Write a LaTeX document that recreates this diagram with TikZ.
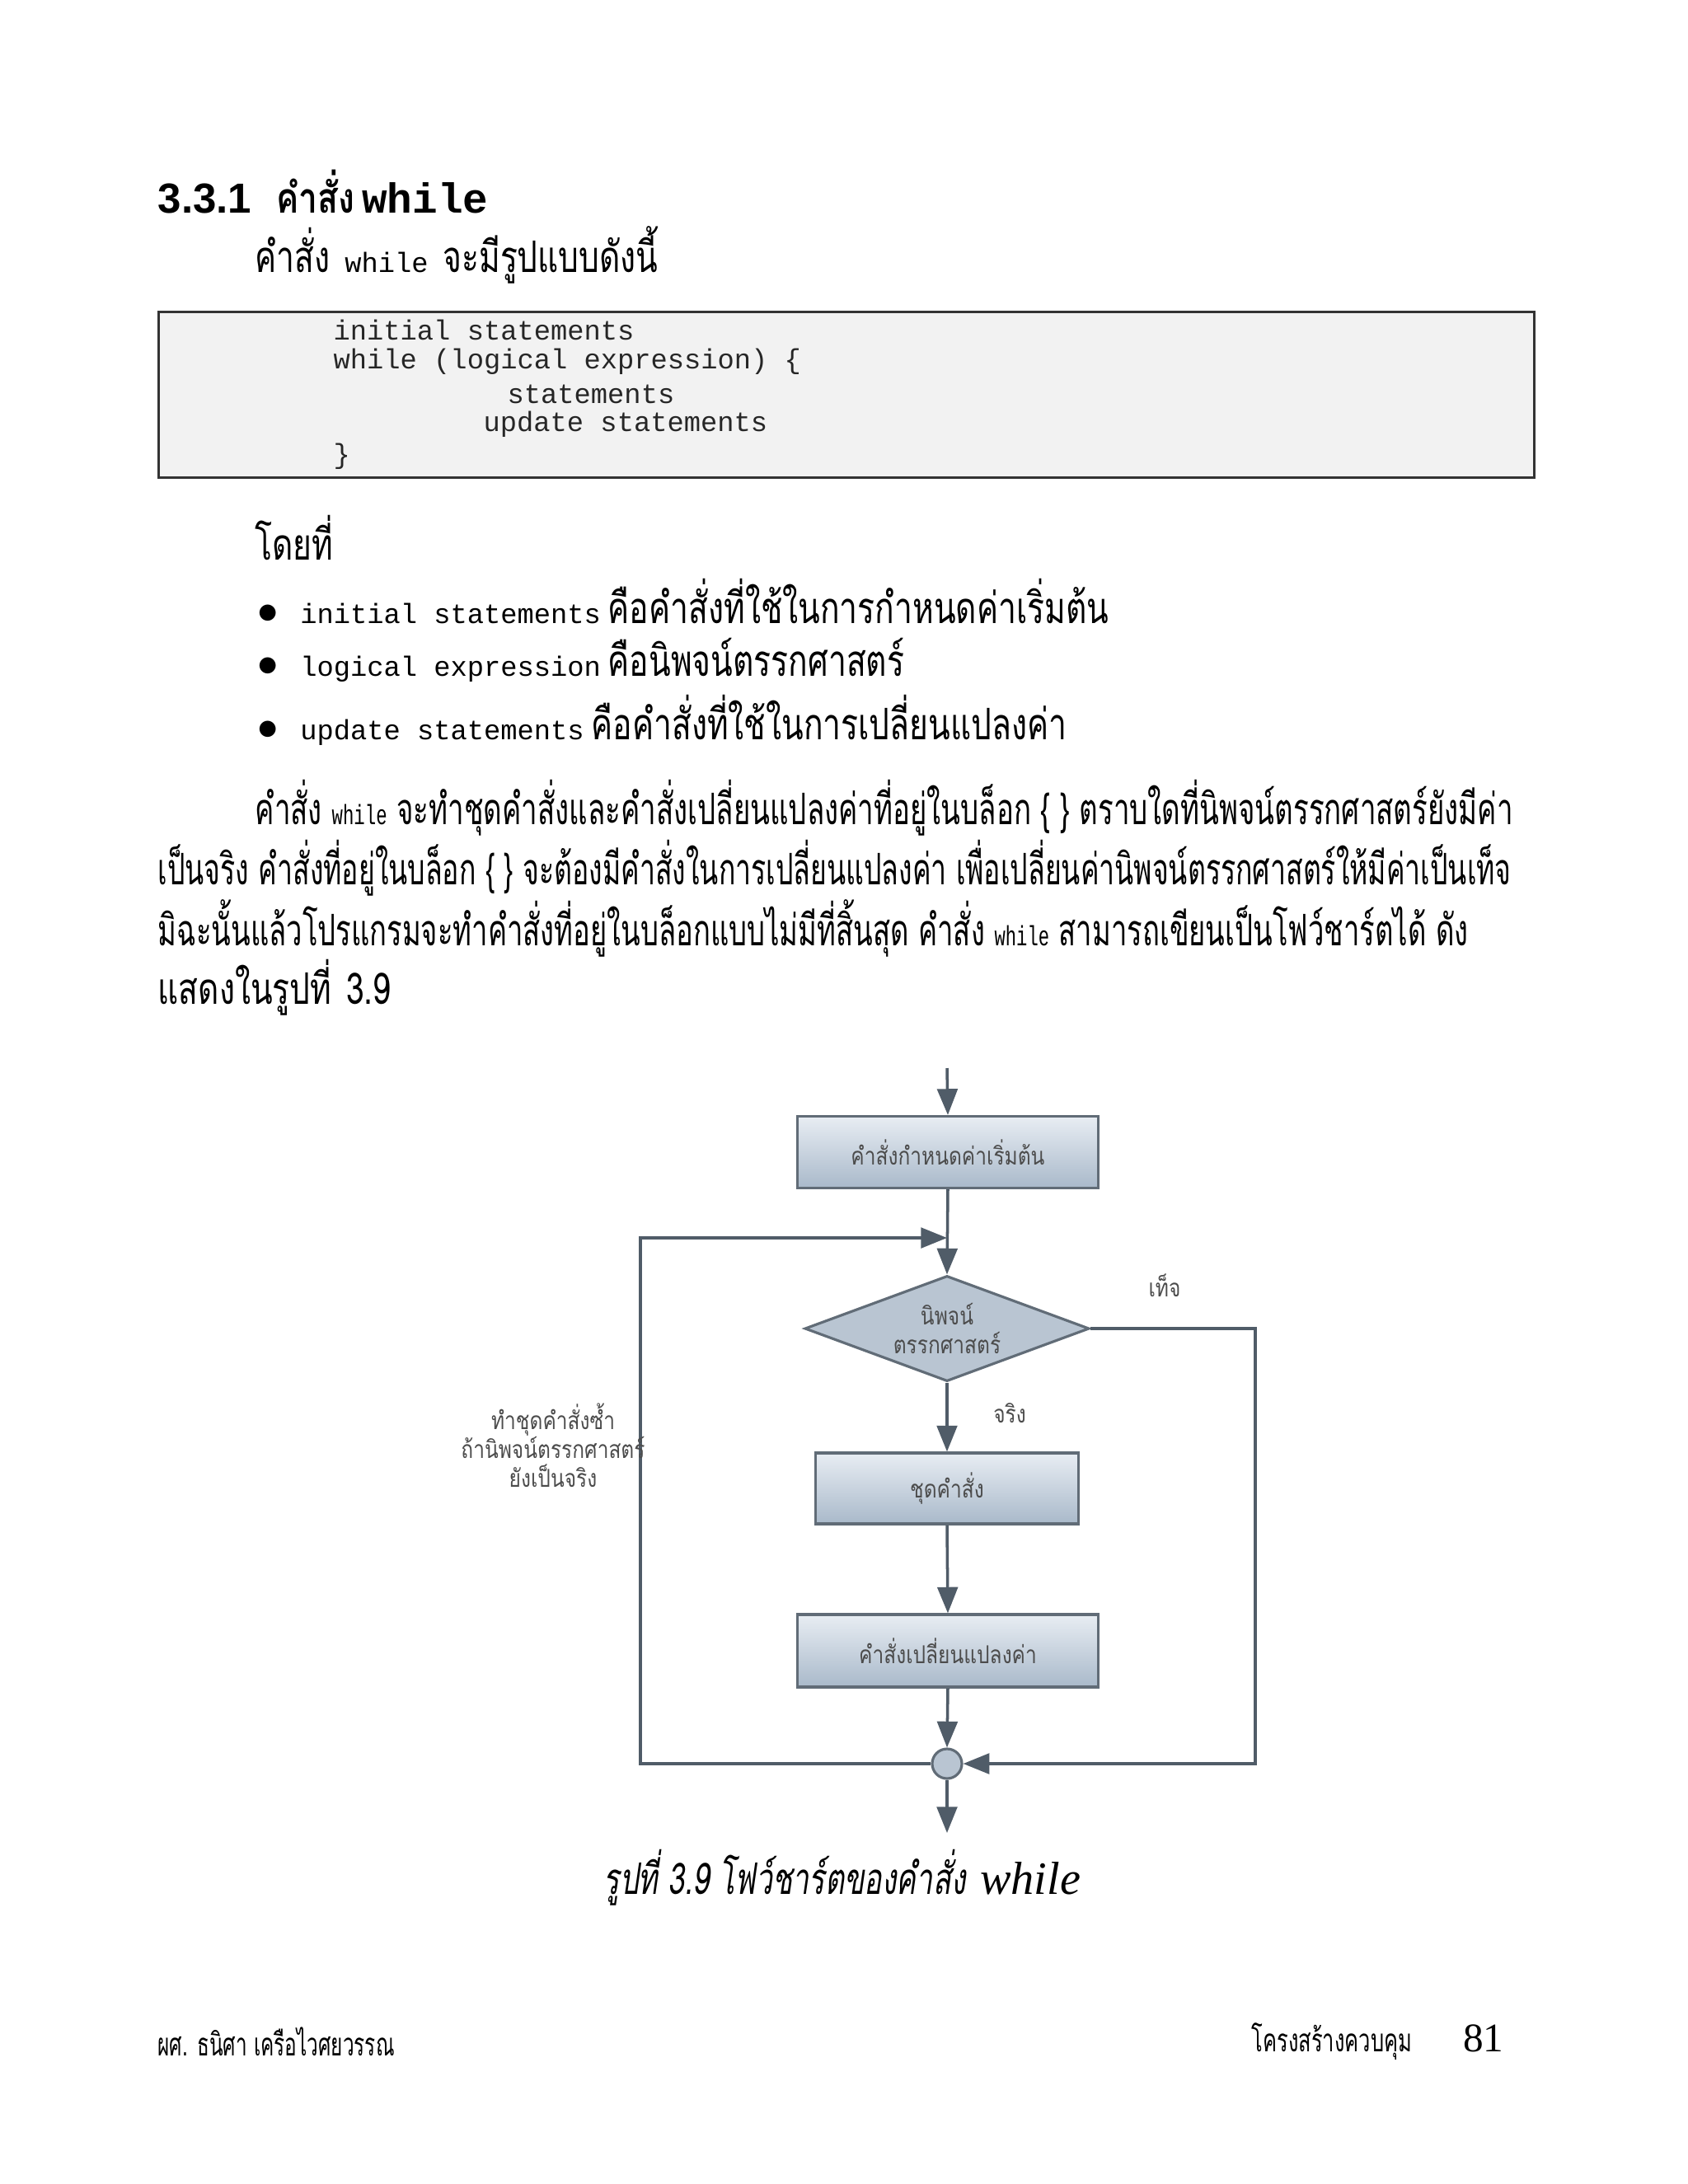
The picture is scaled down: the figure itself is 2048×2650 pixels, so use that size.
\documentclass[tikz,border=0pt]{standalone}
\usepackage{fontspec}
\usetikzlibrary{shapes.geometric,arrows.meta}
\setmainfont{Liberation Serif}
\newfontfamily\thaif[Script=Thai]{Loma}
\newfontfamily\cmono{Liberation Mono}
\newfontfamily\hsans{Liberation Sans}
\definecolor{fl}{HTML}{505C68}
\definecolor{btop}{HTML}{E8EDF3}
\definecolor{bbot}{HTML}{A9B9CA}
\definecolor{dfill}{HTML}{B9C5D2}
\newcommand{\nar}[2][0.74]{\scalebox{#1}[1]{#2}}
\newcommand{\cw}{\cmono\fontsize{9.6}{11}\selectfont}
\tikzset{
 body/.style={anchor=west,inner sep=0pt,font=\thaif\fontsize{15}{18}\selectfont},
 codeline/.style={anchor=west,inner sep=0pt,font=\cmono\fontsize{9.6}{11}\selectfont,text=black!85},
 procbox/.style={draw=fl!90,line width=0.9pt,top color=btop,bottom color=bbot,font=\thaif\fontsize{8.5}{10}\selectfont,text=black!70,minimum height=0.86cm},
 arr/.style={draw=fl,line width=1pt,-{Triangle[length=9pt,width=7pt]}},
 small/.style={font=\thaif\fontsize{8.5}{10}\selectfont,text=black!70,align=center,inner sep=0pt},
}
\begin{document}
\begin{tikzpicture}[x=0.01cm,y=-0.01cm]
\useasboundingbox (0,0) rectangle (2048,2650);
% heading
\node[anchor=west,inner sep=0pt] (h) at (191,233) {\hsans\bfseries\fontsize{14.5}{18}\selectfont 3.3.1\hspace{0.6em}{\thaif\nar[0.8]{คำสั่ง}}\,{\cmono while}};
\node[body] (p0) at (309,309) {\nar{คำสั่ง} {\cw while} \nar{จะมีรูปแบบดังนี้}};
% code box
\node[draw=black!80,fill=black!5,line width=0.8pt,minimum width=16.68cm,minimum height=2.01cm,anchor=north west,inner sep=0pt] (cb) at (191,377) {};
\node[codeline] (c1) at (404,400) {initial statements};
\node[codeline] (c2) at (404,439) {while (logical expression) \{};
\node[codeline] (c3) at (615,478) {statements};
\node[codeline] (c4) at (586,515) {update statements};
\node[codeline] (c5) at (404,554) {\}};
\node[body] (p1) at (309,652) {\nar{โดยที่}};
\node[body] (b1) at (312,730) {$\bullet$\hspace{0.5em}{\cw initial statements}\,\nar{คือคำสั่งที่ใช้ในการกำหนดค่าเริ่มต้น}};
\node[body] (b2) at (312,801) {$\bullet$\hspace{0.5em}{\cw logical expression}\,\nar{คือนิพจน์ตรรกศาสตร์}};
\node[body] (b3) at (312,874) {$\bullet$\hspace{0.5em}{\cw update statements}\,\nar{คือคำสั่งที่ใช้ในการเปลี่ยนแปลงค่า}};
\node[body] (l1) at (309,980) {\resizebox{15.25cm}{\height}{คำสั่ง {\cw while} จะทำชุดคำสั่งและคำสั่งเปลี่ยนแปลงค่าที่อยู่ในบล็อก \{ \} ตราบใดที่นิพจน์ตรรกศาสตร์ยังมีค่า}};
\node[body] (l2) at (191,1053) {\resizebox{16.41cm}{\height}{เป็นจริง คำสั่งที่อยู่ในบล็อก \{ \} จะต้องมีคำสั่งในการเปลี่ยนแปลงค่า เพื่อเปลี่ยนค่านิพจน์ตรรกศาสตร์ให้มีค่าเป็นเท็จ}};
\node[body] (l3) at (191,1126) {\resizebox{15.89cm}{\height}{มิฉะนั้นแล้วโปรแกรมจะทำคำสั่งที่อยู่ในบล็อกแบบไม่มีที่สิ้นสุด คำสั่ง {\cw while} สามารถเขียนเป็นโฟว์ชาร์ตได้ ดัง}};
\node[body] (l4) at (191,1198) {\nar{แสดงในรูปที่} \nar{3.9}};
% flowchart
\coordinate (start) at (1149,1296);
\node[procbox,minimum width=3.64cm,minimum height=0.87cm] (s1) at (1150,1398) {\nar[0.82]{คำสั่งกำหนดค่าเริ่มต้น}};
\node[diamond,draw=fl!90,line width=0.9pt,fill=dfill,aspect=2.7,minimum width=3.45cm,minimum height=1.28cm,inner sep=0pt,font=\thaif\fontsize{8.5}{10}\selectfont,text=black!70,align=center] (d) at (1149,1612) {\nar[0.82]{นิพจน์}\\\nar[0.82]{ตรรกศาสตร์}};
\node[procbox,minimum width=3.19cm,minimum height=0.86cm] (s2) at (1149,1806) {\nar[0.82]{ชุดคำสั่ง}};
\node[procbox,minimum width=3.64cm,minimum height=0.88cm] (s3) at (1150,2003) {\nar[0.82]{คำสั่งเปลี่ยนแปลงค่า}};
\node[circle,draw=fl!90,line width=0.9pt,fill=dfill,minimum size=0.36cm,inner sep=0pt] (j) at (1149,2140) {};
\coordinate (end) at (1149,2224);
\coordinate (top) at (1149,1502);
\coordinate (tl) at (777,1502);
\coordinate (bl) at (777,2140);
\coordinate (tr) at (1523,1612);
\coordinate (br) at (1523,2140);
\draw[arr] (start) -- (s1.north);
\draw[arr] (s1.south) -- (d.north);
\draw[arr] (d.south) -- (s2.north);
\draw[arr] (s2.south) -- (s3.north);
\draw[arr] (s3.south) -- (j.north);
\draw[arr] (j.south) -- (end);
\draw[arr] (j.west) -- (bl) -- (tl) -- (top);
\draw[arr] (d.east) -- (tr) -- (br) -- (j.east);
\node[small] (f) at (1413,1560) {\nar[0.82]{เท็จ}};
\node[small] (t) at (1225,1715) {\nar[0.82]{จริง}};
\node[small] (lb) at (671,1754) {\nar[0.82]{ทำชุดคำสั่งซ้ำ}\\\nar[0.82]{ถ้านิพจน์ตรรกศาสตร์}\\\nar[0.82]{ยังเป็นจริง}};
\node[inner sep=0pt,font=\thaif\itshape\fontsize{15}{18}\selectfont] (cap) at (1022,2278) {\nar[0.68]{รูปที่ 3.9 โฟว์ชาร์ตของคำสั่ง} {\rmfamily\itshape\fontsize{16}{18}\selectfont while}};
% footer
\node[anchor=west,inner sep=0pt,font=\thaif\fontsize{11}{13}\selectfont] (fl) at (191,2477) {\nar[0.63]{ผศ. ธนิศา เครือไวศยวรรณ}};
\node[anchor=east,inner sep=0pt,font=\thaif\fontsize{11}{13}\selectfont] (fr) at (1825,2477) {\nar[0.66]{โครงสร้างควบคุม}\hspace{1.6em}{\rmfamily\fontsize{14}{16}\selectfont 81}};
\end{tikzpicture}
\end{document}
